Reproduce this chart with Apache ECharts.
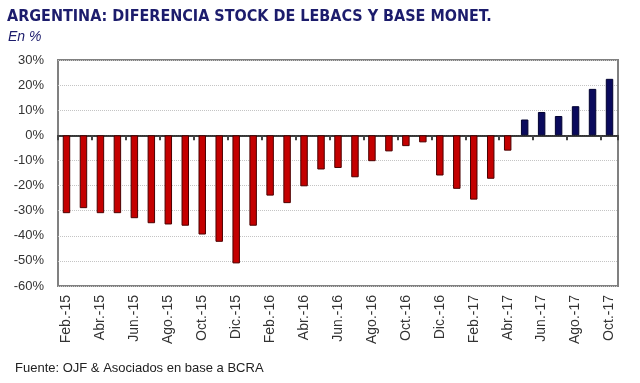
<!DOCTYPE html>
<html>
<head>
<meta charset="utf-8">
<script src="https://cdn.jsdelivr.net/npm/echarts@6/dist/echarts.min.js"></script>
<style>
html,body{margin:0;padding:0;background:#fff;}
#c{width:640px;height:383px;}
</style>
</head>
<body>
<div id="c"></div>
<script>
const months = ["Feb.-15","Mar.-15","Abr.-15","May.-15","Jun.-15","Jul.-15","Ago.-15","Sep.-15","Oct.-15","Nov.-15","Dic.-15",
  "Ene.-16","Feb.-16","Mar.-16","Abr.-16","May.-16","Jun.-16","Jul.-16","Ago.-16","Sep.-16","Oct.-16","Nov.-16","Dic.-16",
  "Ene.-17","Feb.-17","Mar.-17","Abr.-17","May.-17","Jun.-17","Jul.-17","Ago.-17","Sep.-17","Oct.-17"];
const diferencia = [-31,-29,-31,-31,-33,-35,-35.5,-36,-39.5,-42.4,-51,
  -36,-24,-27,-20.3,-13.6,-13,-16.7,-10.3,-6.4,-4.3,-2.8,-16,
  -21.3,-25.6,-17.3,-6.1,6.3,9.3,7.7,11.6,18.5,22.5];
const yTicks = {min:-60, max:30, step:10};

const barData = diferencia.map(function(v){
  return {value:v, itemStyle: v < 0
    ? {color:'#c40000', borderColor:'#4a0000', borderWidth:1}
    : {color:'#0a0a5c', borderColor:'#000030', borderWidth:1}};
});

const chart = echarts.init(document.getElementById('c'), null, {renderer:'canvas'});
const font = '"Liberation Sans", Arial, sans-serif';
chart.setOption({
  animation:false,
  backgroundColor:'#fff',
  title:[
    {text:'ARGENTINA: DIFERENCIA STOCK DE LEBACS Y BASE MONET.', left:2, top:4,
     textStyle:{fontFamily:'"DejaVu Sans Condensed","DejaVu Sans",sans-serif', fontWeight:'bold', fontSize:16, color:'#1c1c6c'}},
    {text:'En %', left:3, top:25,
     textStyle:{fontFamily:font, fontStyle:'italic', fontWeight:'normal', fontSize:14, color:'#1c1c6c'}},
    {text:'Fuente: OJF & Asociados en base a BCRA', left:10, top:357,
     textStyle:{fontFamily:font, fontWeight:'normal', fontSize:13, color:'#222'}}
  ],
  grid:{left:58, right:22, top:60, bottom:97, show:true, borderColor:'#808080', borderWidth:2, backgroundColor:'#fff'},
  xAxis:[
    {type:'category', data:months, position:'bottom',
     axisLine:{show:false, onZero:false}, axisTick:{show:false},
     axisLabel:{interval:1, rotate:90, margin:9, fontFamily:font, fontSize:14, color:'#333'}},
    {type:'category', data:months, position:'bottom',
     axisLine:{show:true, onZero:true, lineStyle:{color:'#000', width:1.5}},
     axisTick:{show:true, interval:1, length:5, lineStyle:{color:'#444', width:2}},
     axisLabel:{show:false}}
  ],
  yAxis:{type:'value', min:yTicks.min, max:yTicks.max, interval:yTicks.step,
    axisLine:{show:false}, axisTick:{show:false},
    axisLabel:{formatter:'{value}%', fontFamily:font, fontSize:13, color:'#333', margin:14},
    splitLine:{show:true, lineStyle:{color:'#c4c4c4', type:'dotted', width:1}}},
  series:[{
    type:'bar', xAxisIndex:0, data:barData, barWidth:'44%'
  }]
});
</script>
</body>
</html>
